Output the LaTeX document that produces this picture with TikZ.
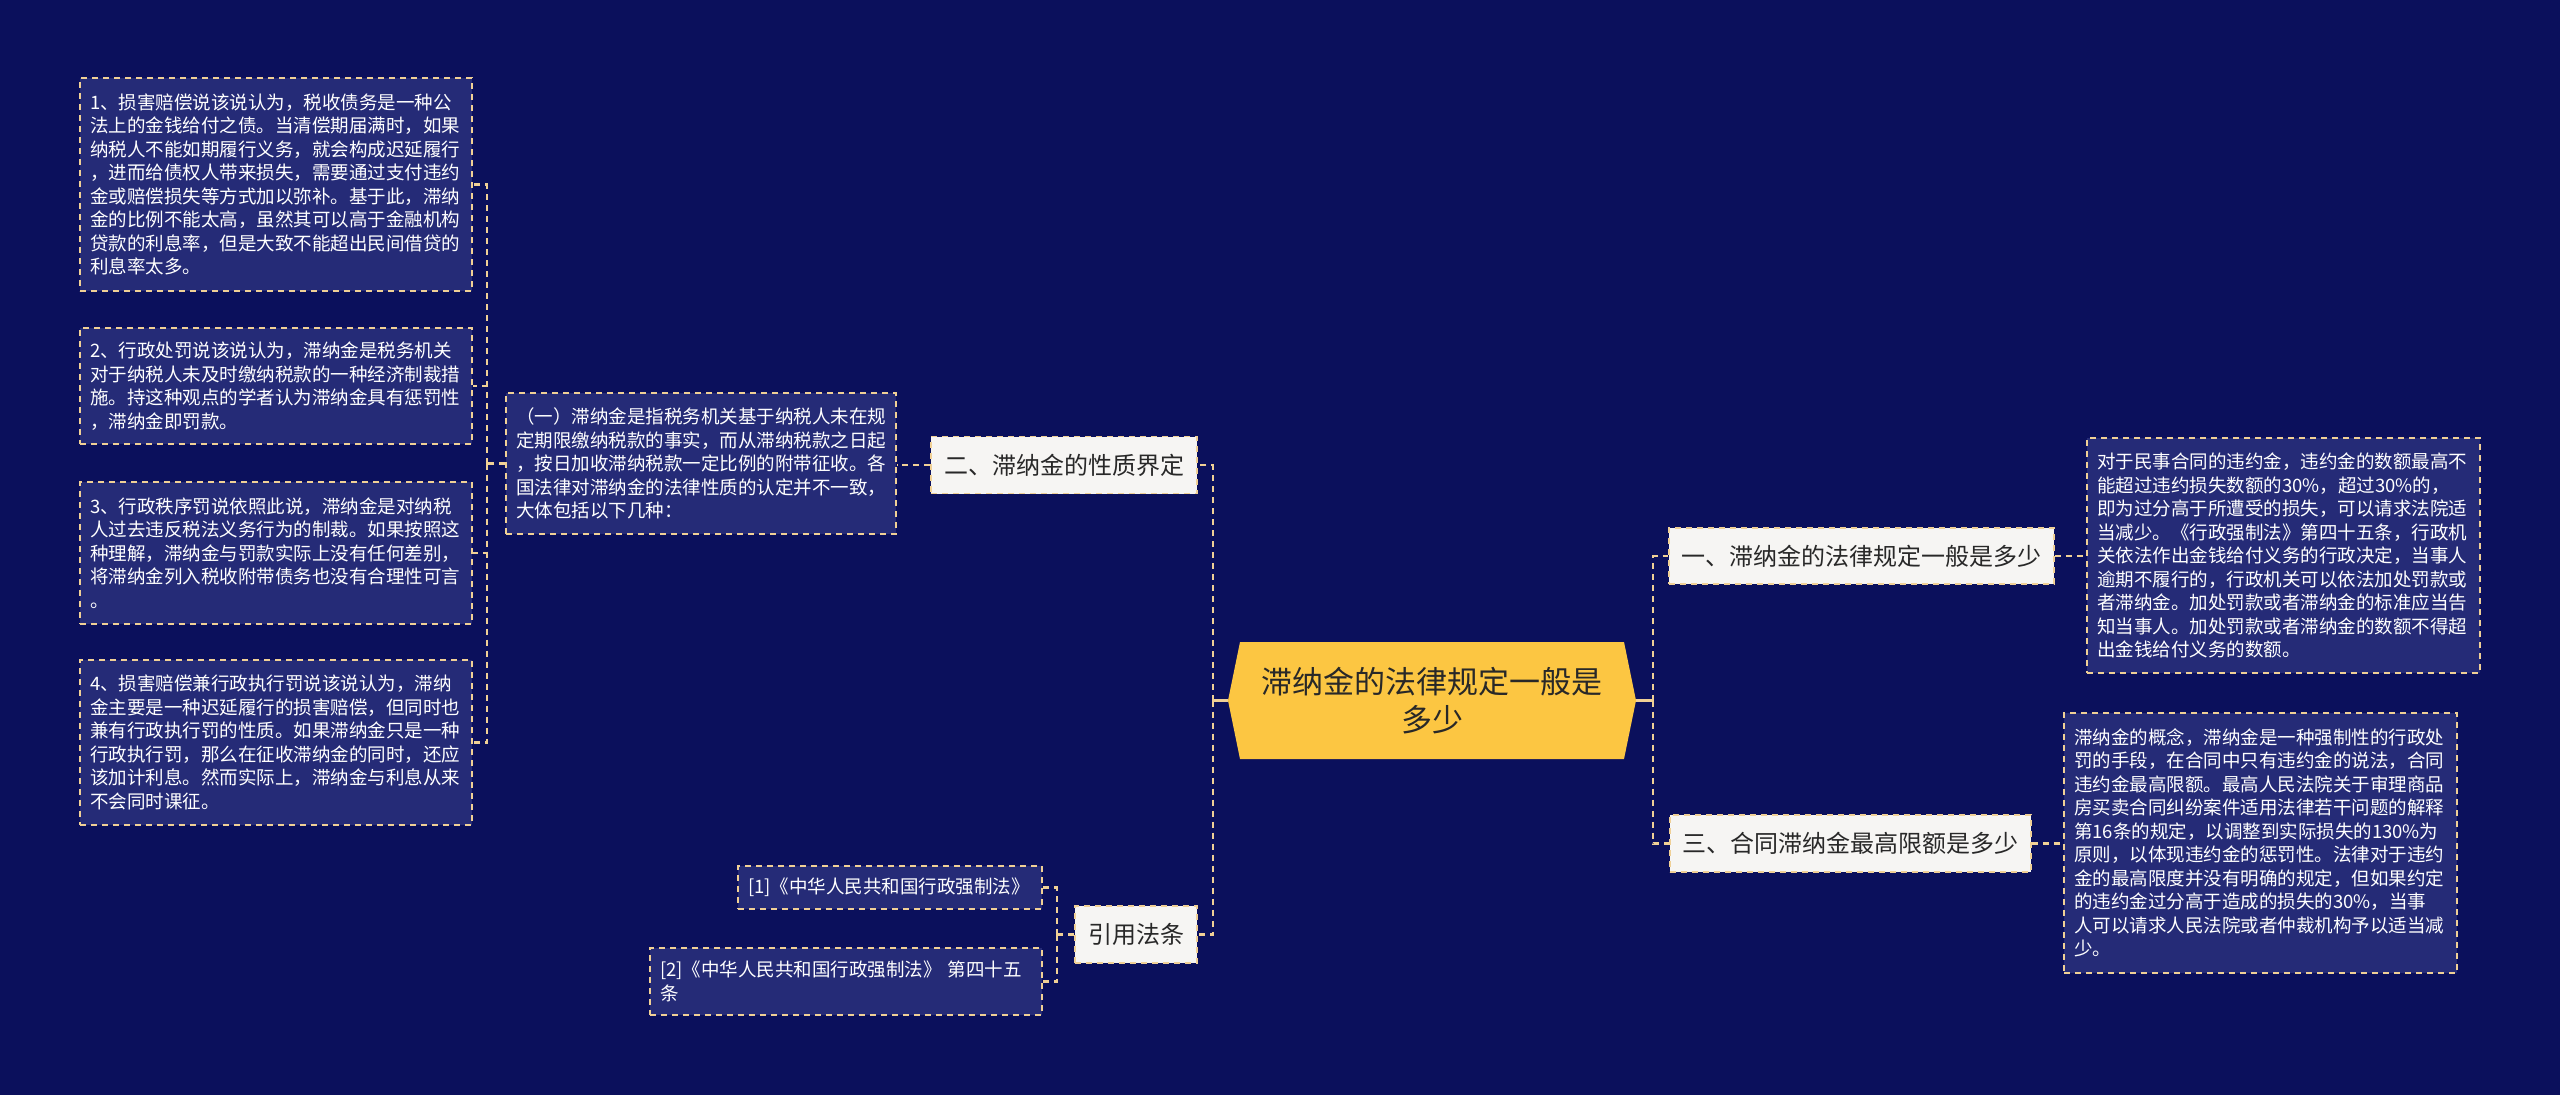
\documentclass[tikz,border=0pt]{standalone}
\usepackage{fontspec}
\setmainfont{Noto Sans CJK SC}
\definecolor{bgc}{RGB}{11,16,92}
\definecolor{boxc}{RGB}{37,43,119}
\definecolor{linec}{RGB}{240,208,150}
\definecolor{lblc}{RGB}{246,245,243}
\definecolor{ctrc}{RGB}{252,198,66}
\definecolor{txtd}{RGB}{40,40,40}
\tikzset{
  dashes/.style={dash pattern=on 6pt off 5pt},
  tbox/.style={draw=linec, dashes, line width=1.6pt, fill=boxc, text=white, align=left,
    inner xsep=10pt, inner ysep=0pt, font=\fontsize{18.5}{23.5}\selectfont},
  lbl/.style={draw=linec, dashes, line width=1.6pt, fill=lblc, text=txtd, align=center,
    inner sep=0pt, font=\fontsize{24}{28}\selectfont},
  conn/.style={draw=linec, dashes, line width=2.4pt},
  stub/.style={draw=linec, line width=2.4pt},
}
\begin{document}
\begin{tikzpicture}[x=1pt,y=-1pt]
\useasboundingbox (0,0) rectangle (2560,1095);
\fill[bgc] (0,0) rectangle (2560,1095);

% center hexagon
\fill[ctrc] (1228,700.5) -- (1240,642) -- (1624,642) -- (1636,700.5) -- (1624,759) -- (1240,759) -- cycle;
\node[text=txtd, align=center, minimum width=408pt, minimum height=117pt, inner sep=0pt,
  font=\fontsize{31}{38}\selectfont] (c) at (1432,700.5) {滞纳金的法律规定一般是\\多少};

% left branch labels
\node[lbl, minimum width=266pt, minimum height=57pt] (n2) at (1064,465) {二、滞纳金的性质界定};
\node[lbl, minimum width=122pt, minimum height=57pt] (nref) at (1136,934.5) {引用法条};

% right branch labels
\node[lbl, minimum width=385pt, minimum height=56pt] (n1) at (1861.5,556) {一、滞纳金的法律规定一般是多少};
\node[lbl, minimum width=361pt, minimum height=57pt] (n3) at (1850.5,843.5) {三、合同滞纳金最高限额是多少};

% text boxes
\node[tbox, text width=370pt, minimum height=141pt] (t0) at (701,463.5) {（一）滞纳金是指税务机关基于纳税人未在规\\定期限缴纳税款的事实，而从滞纳税款之日起\\，按日加收滞纳税款一定比例的附带征收。各\\国法律对滞纳金的法律性质的认定并不一致，\\大体包括以下几种：};

\node[tbox, text width=372pt, minimum height=213pt] (b1) at (276,184.5) {1、损害赔偿说该说认为，税收债务是一种公\\法上的金钱给付之债。当清偿期届满时，如果\\纳税人不能如期履行义务，就会构成迟延履行\\，进而给债权人带来损失，需要通过支付违约\\金或赔偿损失等方式加以弥补。基于此，滞纳\\金的比例不能太高，虽然其可以高于金融机构\\贷款的利息率，但是大致不能超出民间借贷的\\利息率太多。};
\node[tbox, text width=372pt, minimum height=116pt] (b2) at (276,386) {2、行政处罚说该说认为，滞纳金是税务机关\\对于纳税人未及时缴纳税款的一种经济制裁措\\施。持这种观点的学者认为滞纳金具有惩罚性\\，滞纳金即罚款。};
\node[tbox, text width=372pt, minimum height=142pt] (b3) at (276,553) {3、行政秩序罚说依照此说，滞纳金是对纳税\\人过去违反税法义务行为的制裁。如果按照这\\种理解，滞纳金与罚款实际上没有任何差别，\\将滞纳金列入税收附带债务也没有合理性可言\\。};
\node[tbox, text width=372pt, minimum height=165pt] (b4) at (276,742.5) {4、损害赔偿兼行政执行罚说该说认为，滞纳\\金主要是一种迟延履行的损害赔偿，但同时也\\兼有行政执行罚的性质。如果滞纳金只是一种\\行政执行罚，那么在征收滞纳金的同时，还应\\该加计利息。然而实际上，滞纳金与利息从来\\不会同时课征。};

\node[tbox, text width=373pt, minimum height=235pt] (r1) at (2283.5,555.5) {对于民事合同的违约金，违约金的数额最高不\\能超过违约损失数额的30\%，超过30\%的，\\即为过分高于所遭受的损失，可以请求法院适\\当减少。《行政强制法》第四十五条，行政机\\关依法作出金钱给付义务的行政决定，当事人\\逾期不履行的，行政机关可以依法加处罚款或\\者滞纳金。加处罚款或者滞纳金的标准应当告\\知当事人。加处罚款或者滞纳金的数额不得超\\出金钱给付义务的数额。};
\node[tbox, text width=373pt, minimum height=260pt] (r2) at (2260.5,843) {滞纳金的概念，滞纳金是一种强制性的行政处\\罚的手段，在合同中只有违约金的说法，合同\\违约金最高限额。最高人民法院关于审理商品\\房买卖合同纠纷案件适用法律若干问题的解释\\第16条的规定，以调整到实际损失的130\%为\\原则，以体现违约金的惩罚性。法律对于违约\\金的最高限度并没有明确的规定，但如果约定\\的违约金过分高于造成的损失的30\%，当事\\人可以请求人民法院或者仲裁机构予以适当减\\少。};

\node[tbox, text width=284pt, minimum height=43pt] (ref1) at (890,887.5) {[1]《中华人民共和国行政强制法》};
\node[tbox, text width=372pt, minimum height=67pt] (ref2) at (846,981.5) {[2]《中华人民共和国行政强制法》 第四十五\\条};

% connectors from center
\draw[stub] (c.west) -- ++(-15,0) coordinate (cl);
\draw[conn] (cl) |- (n2.east);
\draw[conn] (cl) |- (nref.east);
\draw[stub] (c.east) -- ++(17,0) coordinate (cr);
\draw[conn] (cr) |- (n1.west);
\draw[conn] (cr) |- (n3.west);

% right details
\draw[conn] (n1.east) -- (n1.east -| r1.west);
\draw[conn] (n3.east) -- (n3.east -| r2.west);

% left details
\draw[conn] (n2.west) -- (n2.west -| t0.east);
\draw[conn] (t0.west) -- ++(-18,0) coordinate (bl);
\draw[conn] (bl) |- (b1.east);
\draw[conn] (bl) |- (b2.east);
\draw[conn] (bl) |- (b3.east);
\draw[conn] (bl) |- (b4.east);

% references
\draw[conn] (nref.west) -- ++(-17,0) coordinate (rl);
\draw[conn] (rl) |- (ref1.east);
\draw[conn] (rl) |- (ref2.east);
\end{tikzpicture}
\end{document}
